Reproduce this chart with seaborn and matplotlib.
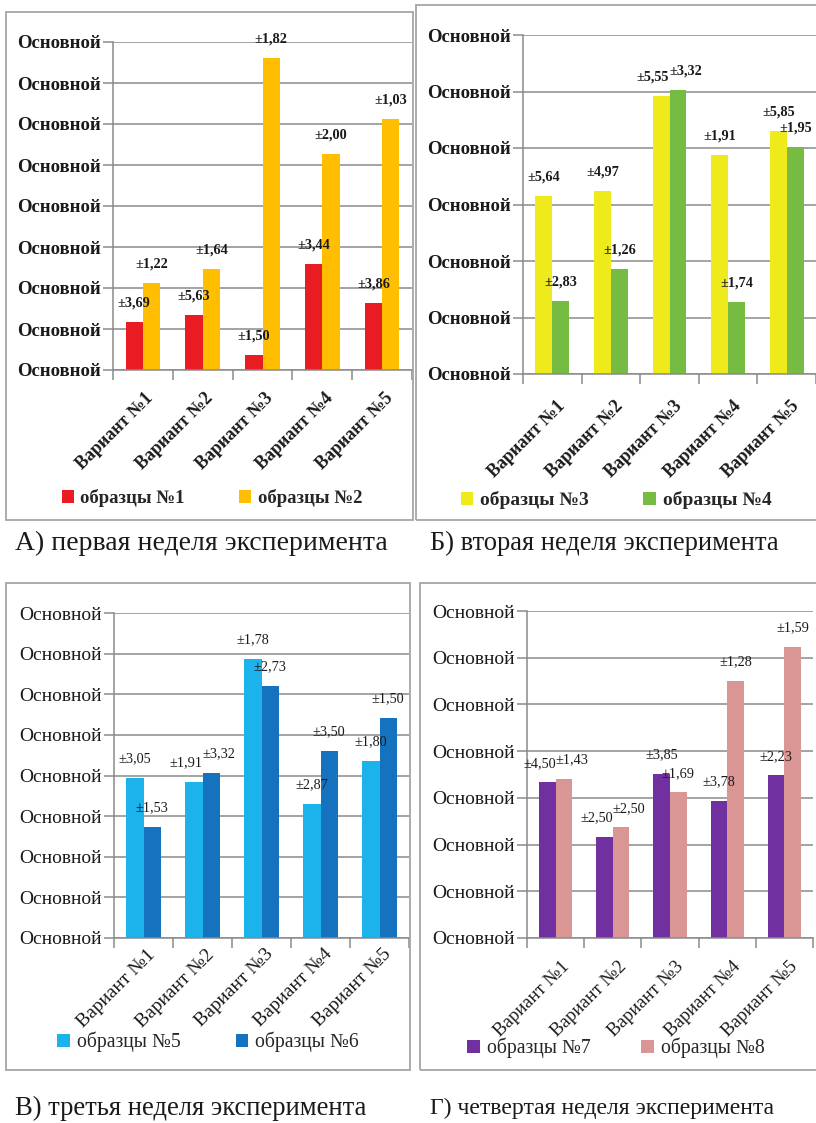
import matplotlib
matplotlib.use("Agg")
import matplotlib.pyplot as plt
import seaborn as sns
import pandas as pd
import numpy as np
from matplotlib.patches import Patch, Rectangle
from matplotlib.transforms import ScaledTranslation

# ---------------- data ----------------
variants = ["Вариант №1", "Вариант №2", "Вариант №3", "Вариант №4", "Вариант №5"]
ytick_label = "Основной"

# week 1
names_a = ["образцы №1", "образцы №2"]
vals_a1 = [1.17, 1.34, 0.37, 2.58, 1.63]
vals_a2 = [2.12, 2.46, 7.60, 5.27, 6.12]
err_a1 = [3.69, 5.63, 1.50, 3.44, 3.86]
err_a2 = [1.22, 1.64, 1.82, 2.00, 1.03]

# week 2
names_b = ["образцы №3", "образцы №4"]
vals_b1 = [3.15, 3.24, 4.92, 3.88, 4.30]
vals_b2 = [1.29, 1.86, 5.03, 1.27, 4.02]
err_b1 = [5.64, 4.97, 5.55, 1.91, 5.85]
err_b2 = [2.83, 1.26, 3.32, 1.74, 1.95]

# week 3
names_c = ["образцы №5", "образцы №6"]
vals_c1 = [3.94, 3.84, 6.87, 3.30, 4.36]
vals_c2 = [2.73, 4.06, 6.20, 4.60, 5.42]
err_c1 = [3.05, 1.91, 1.78, 2.87, 1.80]
err_c2 = [1.53, 3.32, 2.73, 3.50, 1.50]

# week 4
names_d = ["образцы №7", "образцы №8"]
vals_d1 = [3.33, 2.16, 3.52, 2.93, 3.48]
vals_d2 = [3.40, 2.37, 3.12, 5.51, 6.24]
err_d1 = [4.50, 2.50, 3.85, 3.78, 2.23]
err_d2 = [1.43, 2.50, 1.69, 1.28, 1.59]

captions = ["А) первая неделя эксперимента", "Б) вторая неделя эксперимента",
            "В) третья неделя эксперимента", "Г) четвертая неделя эксперимента"]

# ---------------- style ----------------
sns.set_theme(style="white")
plt.rcParams["font.family"] = ["Liberation Serif", "DejaVu Serif"]

W, H = 816, 1123
fig = plt.figure(figsize=(W / 100, H / 100), dpi=100)
fig.patch.set_facecolor("white")

GRID = "#8a8a8a"


def fig_rect(l, t, r, b):
    return [l / W, 1 - b / H, (r - l) / W, (b - t) / H]


def frame(l, t, r, b):
    fig.add_artist(Rectangle((l / W, 1 - b / H), (r - l) / W, (b - t) / H,
                             transform=fig.transFigure, fill=False,
                             ec="#a6a6a6", lw=1.3))


panels = [
    dict(box=(113, 42, 412, 370), ymax=8, names=names_a, v1=vals_a1, v2=vals_a2,
         e1=err_a1, e2=err_a2, colors=["#E91C24", "#FFBF00"], bold=True,
         frame=(6, 12, 413, 520), leg=(212, 498, 2.9, 13.5), cap=(15, 543, 20),
         xoff=8, xpad=18.5, xfs=13),
    dict(box=(523, 35, 816, 374), ymax=6, names=names_b, v1=vals_b1, v2=vals_b2,
         e1=err_b1, e2=err_b2, colors=["#EEEA1C", "#76BC42"], bold=True,
         frame=(416, 5, 820, 520), leg=(616, 500, 2.8, 14), cap=(430, 543, 19.1),
         xoff=10, xpad=21, xfs=13),
    dict(box=(114, 613, 409, 938), ymax=8, names=names_c, v1=vals_c1, v2=vals_c2,
         e1=err_c1, e2=err_c2, colors=["#1CB2EC", "#1472BF"], bold=False,
         frame=(6, 583, 410, 1070), leg=(208, 1042, 2.8, 14.2), cap=(15, 1108, 19.2),
         xoff=9, xpad=10, xfs=14),
    dict(box=(527, 611, 813, 938), ymax=7, names=names_d, v1=vals_d1, v2=vals_d2,
         e1=err_d1, e2=err_d2, colors=["#7030A0", "#DA9695"], bold=False,
         frame=(420, 583, 820, 1070), leg=(616, 1048, 2.55, 14.2), cap=(430, 1108, 17.1),
         xoff=11, xpad=18.5, xfs=13.5),
]

for i, p in enumerate(panels):
    frame(*p["frame"])
    ax = fig.add_axes(fig_rect(*p["box"]))
    df = pd.DataFrame({
        "variant": variants * 2,
        "value": list(p["v1"]) + list(p["v2"]),
        "series": [p["names"][0]] * 5 + [p["names"][1]] * 5,
    })
    sns.barplot(data=df, x="variant", y="value", hue="series",
                palette=p["colors"], width=0.58, saturation=1,
                errorbar=None, legend=False, ax=ax, linewidth=0)
    weight = "bold" if p["bold"] else "normal"

    ax.set_xlim(-0.5, 4.5)
    ax.set_ylim(0, p["ymax"])
    ax.set_xlabel("")
    ax.set_ylabel("")
    ax.set_facecolor("white")
    ax.set_yticks(np.arange(p["ymax"] + 1))
    ax.set_yticklabels([ytick_label] * (p["ymax"] + 1), fontsize=13.5 if p["bold"] else 14,
                       fontweight=weight, color="#1a1a1a")
    ax.yaxis.grid(True, color=GRID, lw=1.1)
    ax.xaxis.grid(False)
    ax.set_axisbelow(True)
    for s in ["top", "right"]:
        ax.spines[s].set_visible(False)
    for s in ["left", "bottom"]:
        ax.spines[s].set_color(GRID)
        ax.spines[s].set_linewidth(1.1)
    ax.tick_params(axis="y", which="major", left=True, length=7, width=1.1,
                   color=GRID, pad=2, direction="out")
    ax.set_xticks(np.arange(5))
    ax.set_xticks(np.arange(-0.5, 5.0, 1.0), minor=True)
    ax.tick_params(axis="x", which="major", bottom=True, length=0, pad=p["xpad"])
    ax.tick_params(axis="x", which="minor", bottom=True, length=7, width=1.1,
                   color=GRID, direction="out")
    ax.set_xticklabels(variants, rotation=45, ha="right", va="center",
                       rotation_mode="anchor", fontsize=p["xfs"],
                       fontweight=weight, color="#1a1a1a")
    off = ScaledTranslation(p["xoff"] / 100, 0, fig.dpi_scale_trans)
    for lbl in ax.get_xticklabels():
        lbl.set_transform(lbl.get_transform() + off)

    # error labels (pushed apart sideways when two labels sit at nearly the same height)
    px_per_unit = (p["box"][3] - p["box"][1]) / p["ymax"]
    errs = [p["e1"], p["e2"]]
    conts = ax.containers
    for k in range(5):
        b1, b2 = conts[0][k], conts[1][k]
        close = abs(b1.get_height() - b2.get_height()) * px_per_unit < 15
        for h, bar in enumerate((b1, b2)):
            e = errs[h][k]
            x = bar.get_x() + bar.get_width() / 2
            y = bar.get_height()
            dx = (-8 if h == 0 else 8) if close else 0
            ax.annotate(f"±{e:.2f}".replace(".", ","), (x, y),
                        xytext=(dx, 19), textcoords="offset pixels",
                        ha="center", va="center", fontsize=10.3,
                        fontweight=weight, color="#1a1a1a",
                        annotation_clip=False)

    # legend
    handles = [Patch(facecolor=c, edgecolor="none") for c in p["colors"]]
    lx, ly, cs, lfs = p["leg"]
    fig.legend(handles, p["names"], loc="center",
               bbox_to_anchor=(lx / W, 1 - ly / H), ncol=2, frameon=False,
               handlelength=0.65, handleheight=0.65,
               handletextpad=0.35, columnspacing=cs, borderpad=0,
               prop={"weight": weight, "size": lfs})

    cx, cy, cfs = p["cap"]
    fig.text(cx / W, 1 - cy / H, captions[i], ha="left", va="center",
             fontsize=cfs, color="#1a1a1a")

fig.savefig("out.png", dpi=100, facecolor="white")
